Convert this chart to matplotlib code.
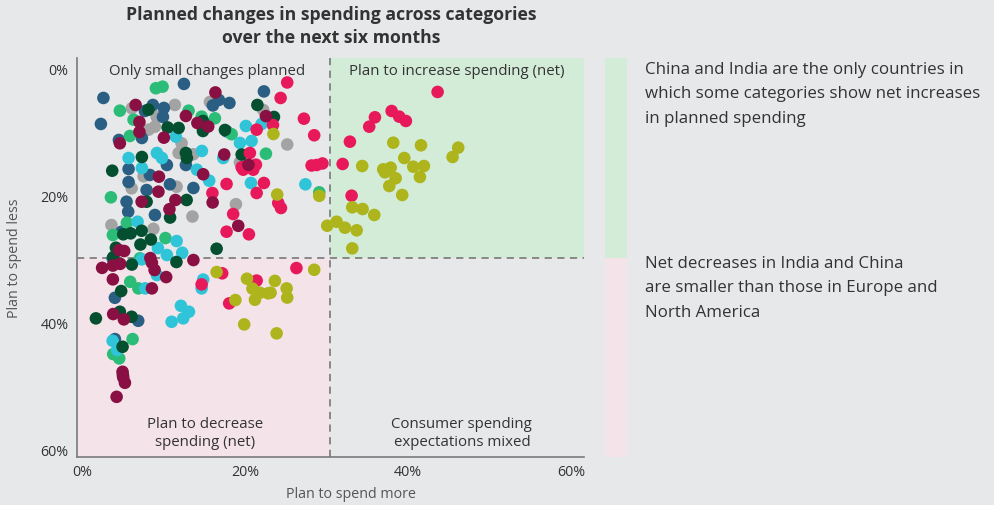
import matplotlib
matplotlib.use("Agg")
import matplotlib.pyplot as plt
from matplotlib.patches import Rectangle

plt.rcParams['font.family'] = ['Open Sans', 'DejaVu Sans']

# ---- data: (plan to spend more %, plan to spend less %) per series ----
blue_x = [2.64, 2.33, 12.52, 8.71, 10.06, 9.94, 7.73, 7.36, 5.73, 10.43, 12.76, 5.73, 8.34, 22.33, 16.81,
          16.07, 18.10, 17.75, 13.68, 10.80, 7.94, 5.48, 5.68, 8.96, 4.87, 3.77, 4.05, 6.91, 4.05, 4.54]
blue_y = [4.49, 8.58, 2.28, 5.59, 6.06, 7.48, 6.54, 10.79, 15.67, 15.04, 15.04, 17.72, 16.61, 3.46, 4.80,
          5.67, 5.28, 9.73, 18.66, 18.08, 18.98, 20.82, 22.39, 22.91, 25.54, 29.73, 35.94, 39.56, 42.44, 11.10]

green_x = [9.08, 9.90, 4.66, 13.09, 6.34, 5.89, 14.69, 16.32, 18.37, 22.58, 3.56, 5.52, 3.80, 10.25, 5.93,
           6.93, 6.22, 3.84, 4.58, 29.12, 7.12]
green_y = [2.96, 2.71, 6.49, 6.49, 7.91, 10.47, 7.43, 7.69, 10.20, 13.26, 20.13, 24.13, 26.06, 26.54, 33.42,
           34.46, 42.44, 44.80, 45.48, 19.34, 29.73]

grey_x = [6.13, 11.41, 9.17, 8.18, 8.96, 12.23, 12.64, 13.66, 11.87, 15.71, 19.39, 25.19, 18.90, 13.56, 11.62,
          6.10, 3.62, 8.77, 22.25, 7.57]
grey_y = [6.11, 5.59, 7.43, 9.48, 9.01, 11.62, 13.46, 13.35, 13.15, 5.12, 14.61, 11.81, 21.21, 23.15, 18.46,
          18.71, 24.49, 25.09, 6.38, 16.82]

dkgreen_x = [8.16, 10.52, 11.87, 14.85, 7.36, 12.76, 12.88, 3.72, 21.53, 23.56, 14.85, 17.55, 19.60, 12.85, 10.82,
             7.94, 5.07, 5.98, 7.33, 8.47, 7.18, 4.17, 3.87, 11.60, 6.13, 16.53, 1.72, 4.66, 6.10, 4.82, 4.99, 5.03]
dkgreen_y = [6.33, 9.13, 9.21, 8.11, 13.78, 13.15, 13.94, 15.94, 5.59, 7.48, 9.69, 9.53, 13.39, 20.55, 23.31,
             20.82, 25.95, 25.80, 25.39, 26.77, 27.56, 28.06, 29.53, 30.31, 30.71, 28.22, 39.18, 38.14, 38.93, 34.88,
             43.65, 48.11]

maroon_x = [6.59, 12.76, 7.06, 7.06, 14.17, 15.50, 4.66, 10.06, 14.88, 16.38, 22.58, 17.46, 20.43, 16.04, 19.18,
            9.45, 9.39, 7.33, 11.47, 10.74, 4.58, 5.19, 8.40, 8.59, 13.68, 2.48, 3.80, 4.70, 8.92, 10.34, 3.80,
            8.59, 3.84, 5.15, 4.99, 5.07, 5.28, 4.26]
maroon_y = [5.59, 7.32, 8.27, 9.84, 8.43, 8.98, 11.62, 10.74, 16.50, 3.62, 7.35, 13.39, 15.01, 20.94, 24.61,
            16.88, 19.24, 20.82, 20.55, 22.00, 28.43, 28.58, 29.69, 30.43, 30.00, 31.23, 30.87, 30.60, 31.57, 32.68,
            33.04, 34.46, 38.50, 39.34, 47.59, 48.47, 49.32, 51.53]

cyan_x = [11.53, 5.73, 9.20, 9.82, 14.72, 7.36, 14.11, 15.62, 19.39, 20.82, 20.12, 22.05, 17.34, 20.74, 27.42,
          6.83, 11.62, 12.31, 9.33, 10.43, 7.36, 9.20, 7.77, 14.88, 14.69, 12.15, 13.13, 12.43, 11.01, 3.77, 4.33]
cyan_y = [10.58, 13.94, 13.15, 13.94, 12.83, 15.51, 15.78, 17.51, 11.57, 11.26, 8.90, 8.58, 13.94, 17.87, 18.08,
          23.97, 27.01, 28.85, 28.11, 29.21, 29.89, 32.36, 34.46, 33.07, 34.46, 37.20, 38.14, 39.18, 39.72, 42.71,
          44.17]

red_x = [25.19, 24.38, 23.44, 27.24, 28.50, 21.44, 20.61, 19.79, 21.35, 21.02, 19.60, 17.75, 22.33, 21.44, 24.09,
         24.42, 16.01, 18.56, 17.75, 20.49, 28.18, 28.80, 29.51, 43.64, 38.00, 38.93, 39.75, 35.95, 35.25, 32.88,
         31.99, 33.09, 26.32, 14.69, 17.21, 18.07, 21.44]
red_y = [2.05, 4.49, 8.74, 7.75, 10.36, 9.48, 13.15, 15.78, 14.99, 15.78, 15.40, 18.03, 17.87, 19.45, 21.02,
         21.81, 19.45, 22.76, 25.54, 25.95, 15.12, 15.04, 14.80, 3.54, 6.54, 7.43, 8.11, 7.53, 9.01, 11.37,
         14.88, 19.87, 31.26, 33.83, 32.09, 36.82, 33.23]

olive_x = [23.50, 23.96, 29.12, 30.10, 31.25, 32.27, 33.71, 33.17, 34.44, 35.87, 33.17, 34.39, 36.97, 37.18, 37.88,
           38.20, 38.49, 37.71, 39.30, 39.55, 40.65, 41.96, 41.47, 41.60, 46.17, 45.48, 16.53, 18.83, 20.25, 20.92,
           21.84, 22.86, 23.15, 21.23, 23.68, 25.12, 25.19, 28.50, 19.91, 23.89]
olive_y = [10.16, 19.69, 19.89, 24.60, 23.97, 24.91, 25.32, 21.70, 21.97, 22.91, 28.16, 15.20, 15.72, 16.19, 15.46,
           11.53, 17.13, 18.35, 19.76, 13.94, 15.31, 15.20, 16.93, 11.94, 12.31, 13.78, 31.89, 36.30, 32.94, 34.49,
           35.15, 35.24, 35.15, 36.25, 33.28, 34.46, 35.91, 31.53, 40.13, 41.54]

x_ticks = [0, 20, 40, 60]
x_tick_labels = ['0%', '20%', '40%', '60%']
y_ticks = [0, 20, 40, 60]
y_tick_labels = ['0%', '20%', '40%', '60%']
x_split = 30.4
y_split = 29.7

BG = '#e7e8ea'
GREEN_BG = '#d3ecd7'
PINK_BG = '#f4e3e8'
TXT = '#333333'

fig = plt.figure(figsize=(9.95, 5.05), dpi=100, facecolor=BG)
ax = fig.add_axes([77/995, 1-457/505, 507/995, 399/505])
ax.set_facecolor(BG)
xmin, xmax = -0.6, 61.6
ymin, ymax = -1.8, 61.0
ax.set_xlim(xmin, xmax)
ax.set_ylim(ymax, ymin)

ax.add_patch(Rectangle((x_split, ymin), xmax - x_split, y_split - ymin, facecolor=GREEN_BG, edgecolor='none', zorder=0))
ax.add_patch(Rectangle((xmin, y_split), x_split - xmin, ymax - y_split, facecolor=PINK_BG, edgecolor='none', zorder=0))
ax.axvline(x_split, color='#808080', lw=1.3, ls=(0, (4, 3)), zorder=1)
ax.axhline(y_split, color='#808080', lw=1.3, ls=(0, (4, 3)), zorder=1)

series = [
    (grey_x, grey_y, '#a3a3a3'),
    (blue_x, blue_y, '#2a5f83'),
    (green_x, green_y, '#2bbd77'),
    (cyan_x, cyan_y, '#30c4d9'),
    (dkgreen_x, dkgreen_y, '#034f2f'),
    (red_x, red_y, '#e8195a'),
    (olive_x, olive_y, '#adb41c'),
    (maroon_x, maroon_y, '#8a0f42'),
]
for xs, ys, c in series:
    ax.scatter(xs, ys, s=82, color=c, edgecolors='none', zorder=3)

for s in ['top', 'right']:
    ax.spines[s].set_visible(False)
for s in ['left', 'bottom']:
    ax.spines[s].set_color('#7a7a7a')
    ax.spines[s].set_linewidth(1.2)
ax.set_xticks(x_ticks)
ax.set_xticklabels(x_tick_labels)
ax.set_yticks(y_ticks)
ax.set_yticklabels(y_tick_labels)
ax.tick_params(length=0, labelsize=10.3, colors=TXT, pad=6)

qfs = 10.8
ax.text(0.256, 0.967, 'Only small changes planned', transform=ax.transAxes, ha='center', va='center', fontsize=qfs, color=TXT, zorder=4)
ax.text(0.749, 0.967, 'Plan to increase spending (net)', transform=ax.transAxes, ha='center', va='center', fontsize=qfs, color=TXT, zorder=4)
ax.text(0.252, 0.059, 'Plan to decrease\nspending (net)', transform=ax.transAxes, ha='center', va='center', fontsize=qfs, color=TXT, linespacing=1.35, zorder=4)
ax.text(0.759, 0.059, 'Consumer spending\nexpectations mixed', transform=ax.transAxes, ha='center', va='center', fontsize=qfs, color=TXT, linespacing=1.35, zorder=4)

fig.text(351/995, 1-494/505, 'Plan to spend more', ha='center', va='center', fontsize=10.3, color='#555555')
fig.text(15/995, 1-258/505, 'Plan to spend less', ha='center', va='center', rotation=90, fontsize=10.3, color='#555555')

fig.text(331/995, 1-26.5/505, 'Planned changes in spending across categories\nover the next six months',
         ha='center', va='center', fontsize=12.7, fontweight='bold', color=TXT, linespacing=1.32)

fig.patches.append(Rectangle((605/995, 1-258/505), 22/995, 200/505, transform=fig.transFigure, facecolor=GREEN_BG, edgecolor='none'))
fig.patches.append(Rectangle((605/995, 1-457/505), 22/995, 199/505, transform=fig.transFigure, facecolor=PINK_BG, edgecolor='none'))
fig.text(645/995, 1-94.5/505, 'China and India are the only countries in\nwhich some categories show net increases\nin planned spending',
         ha='left', va='center', fontsize=12.2, color=TXT, linespacing=1.72)
fig.text(645/995, 1-288.5/505, 'Net decreases in India and China\nare smaller than those in Europe and\nNorth America',
         ha='left', va='center', fontsize=12.2, color=TXT, linespacing=1.72)

fig.savefig('out.png', dpi=100, facecolor=BG)
